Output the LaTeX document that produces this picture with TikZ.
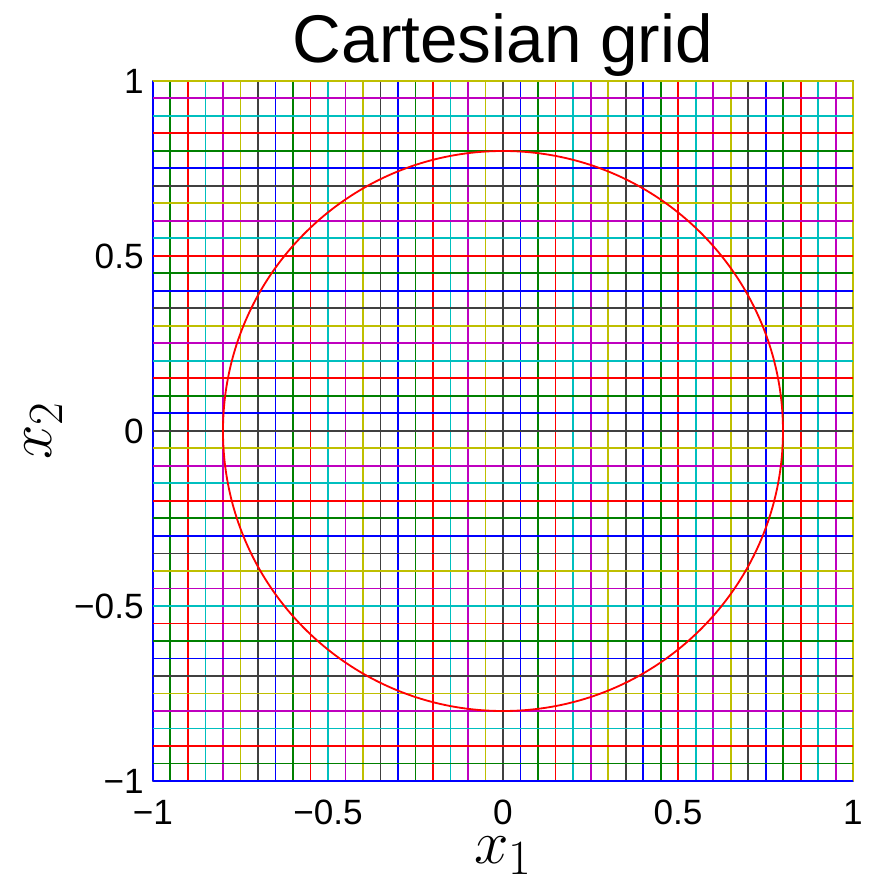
\RequirePackage{fix-cm}
\documentclass[tikz,border=0pt]{standalone}
\usepackage[no-math]{fontspec}
\setmainfont{Liberation Sans}
\DeclareMathSizes{44}{44}{35}{25}
\definecolor{gc0}{rgb}{0,0,1}
\definecolor{gc1}{rgb}{0,0.5,0}
\definecolor{gc2}{rgb}{1,0,0}
\definecolor{gc3}{rgb}{0,0.75,0.75}
\definecolor{gc4}{rgb}{0.75,0,0.75}
\definecolor{gc5}{rgb}{0.75,0.75,0}
\definecolor{gc6}{rgb}{0.25,0.25,0.25}
\begin{document}
\begin{tikzpicture}[x=8.75cm,y=8.75cm,
	gridline/.style={line width=1.4pt},
	ticklabel/.style={inner sep=0pt,font=\fontsize{25}{30}\selectfont},
	axislabel/.style={inner sep=0pt,anchor=base,font=\fontsize{44}{53}\selectfont}]
	\useasboundingbox (-1.4371,-1.28) rectangle (1.0486,1.2314);
	
	\draw[gray,line width=0.8pt] (-1,-1) rectangle (1,1);
	\foreach \t in {-1,-0.5,0,0.5,1} {
		\draw[gray,line width=0.8pt] (\t,-1) -- (\t,-0.98);
		\draw[gray,line width=0.8pt] (\t,1) -- (\t,0.98);
		\draw[gray,line width=0.8pt] (-1,\t) -- (-0.98,\t);
		\draw[gray,line width=0.8pt] (1,\t) -- (0.98,\t);
	}
	
	\foreach \i in {0,...,40} {
		\pgfmathtruncatemacro{\gcol}{mod(\i,7)}
		\pgfmathsetmacro{\gpos}{-1+0.05*\i}
		\draw[gridline,color=gc\gcol] (\gpos,-1) -- (\gpos,1);
	}
	\foreach \i in {0,...,40} {
		\pgfmathtruncatemacro{\gcol}{mod(\i,7)}
		\pgfmathsetmacro{\gpos}{-1+0.05*\i}
		\draw[gridline,color=gc\gcol] (-1,\gpos) -- (1,\gpos);
	}
	
	\draw[red,line width=1.3pt] (0,0) circle (0.8);
	
	\foreach \t/\s/\n in {-1/−1/a,-0.5/−0.5/b,0/0/c,0.5/0.5/d,1/1/e} {
		\node[ticklabel,anchor=north] (xt\n) at (\t,-1.054) {\s};
		\node[ticklabel,anchor=east] (yt\n) at (-1.026,\t) {\s};
	}
	
	\node[anchor=base,font=\fontsize{48}{58}\selectfont] (title) at (0,1.054) {Cartesian grid};
	\node[axislabel] (xlab) at (0,-1.237) {$x_1$};
	\node[axislabel,rotate=90] (ylab) at (-1.289,0) {$x_2$};
\end{tikzpicture}
\end{document}
